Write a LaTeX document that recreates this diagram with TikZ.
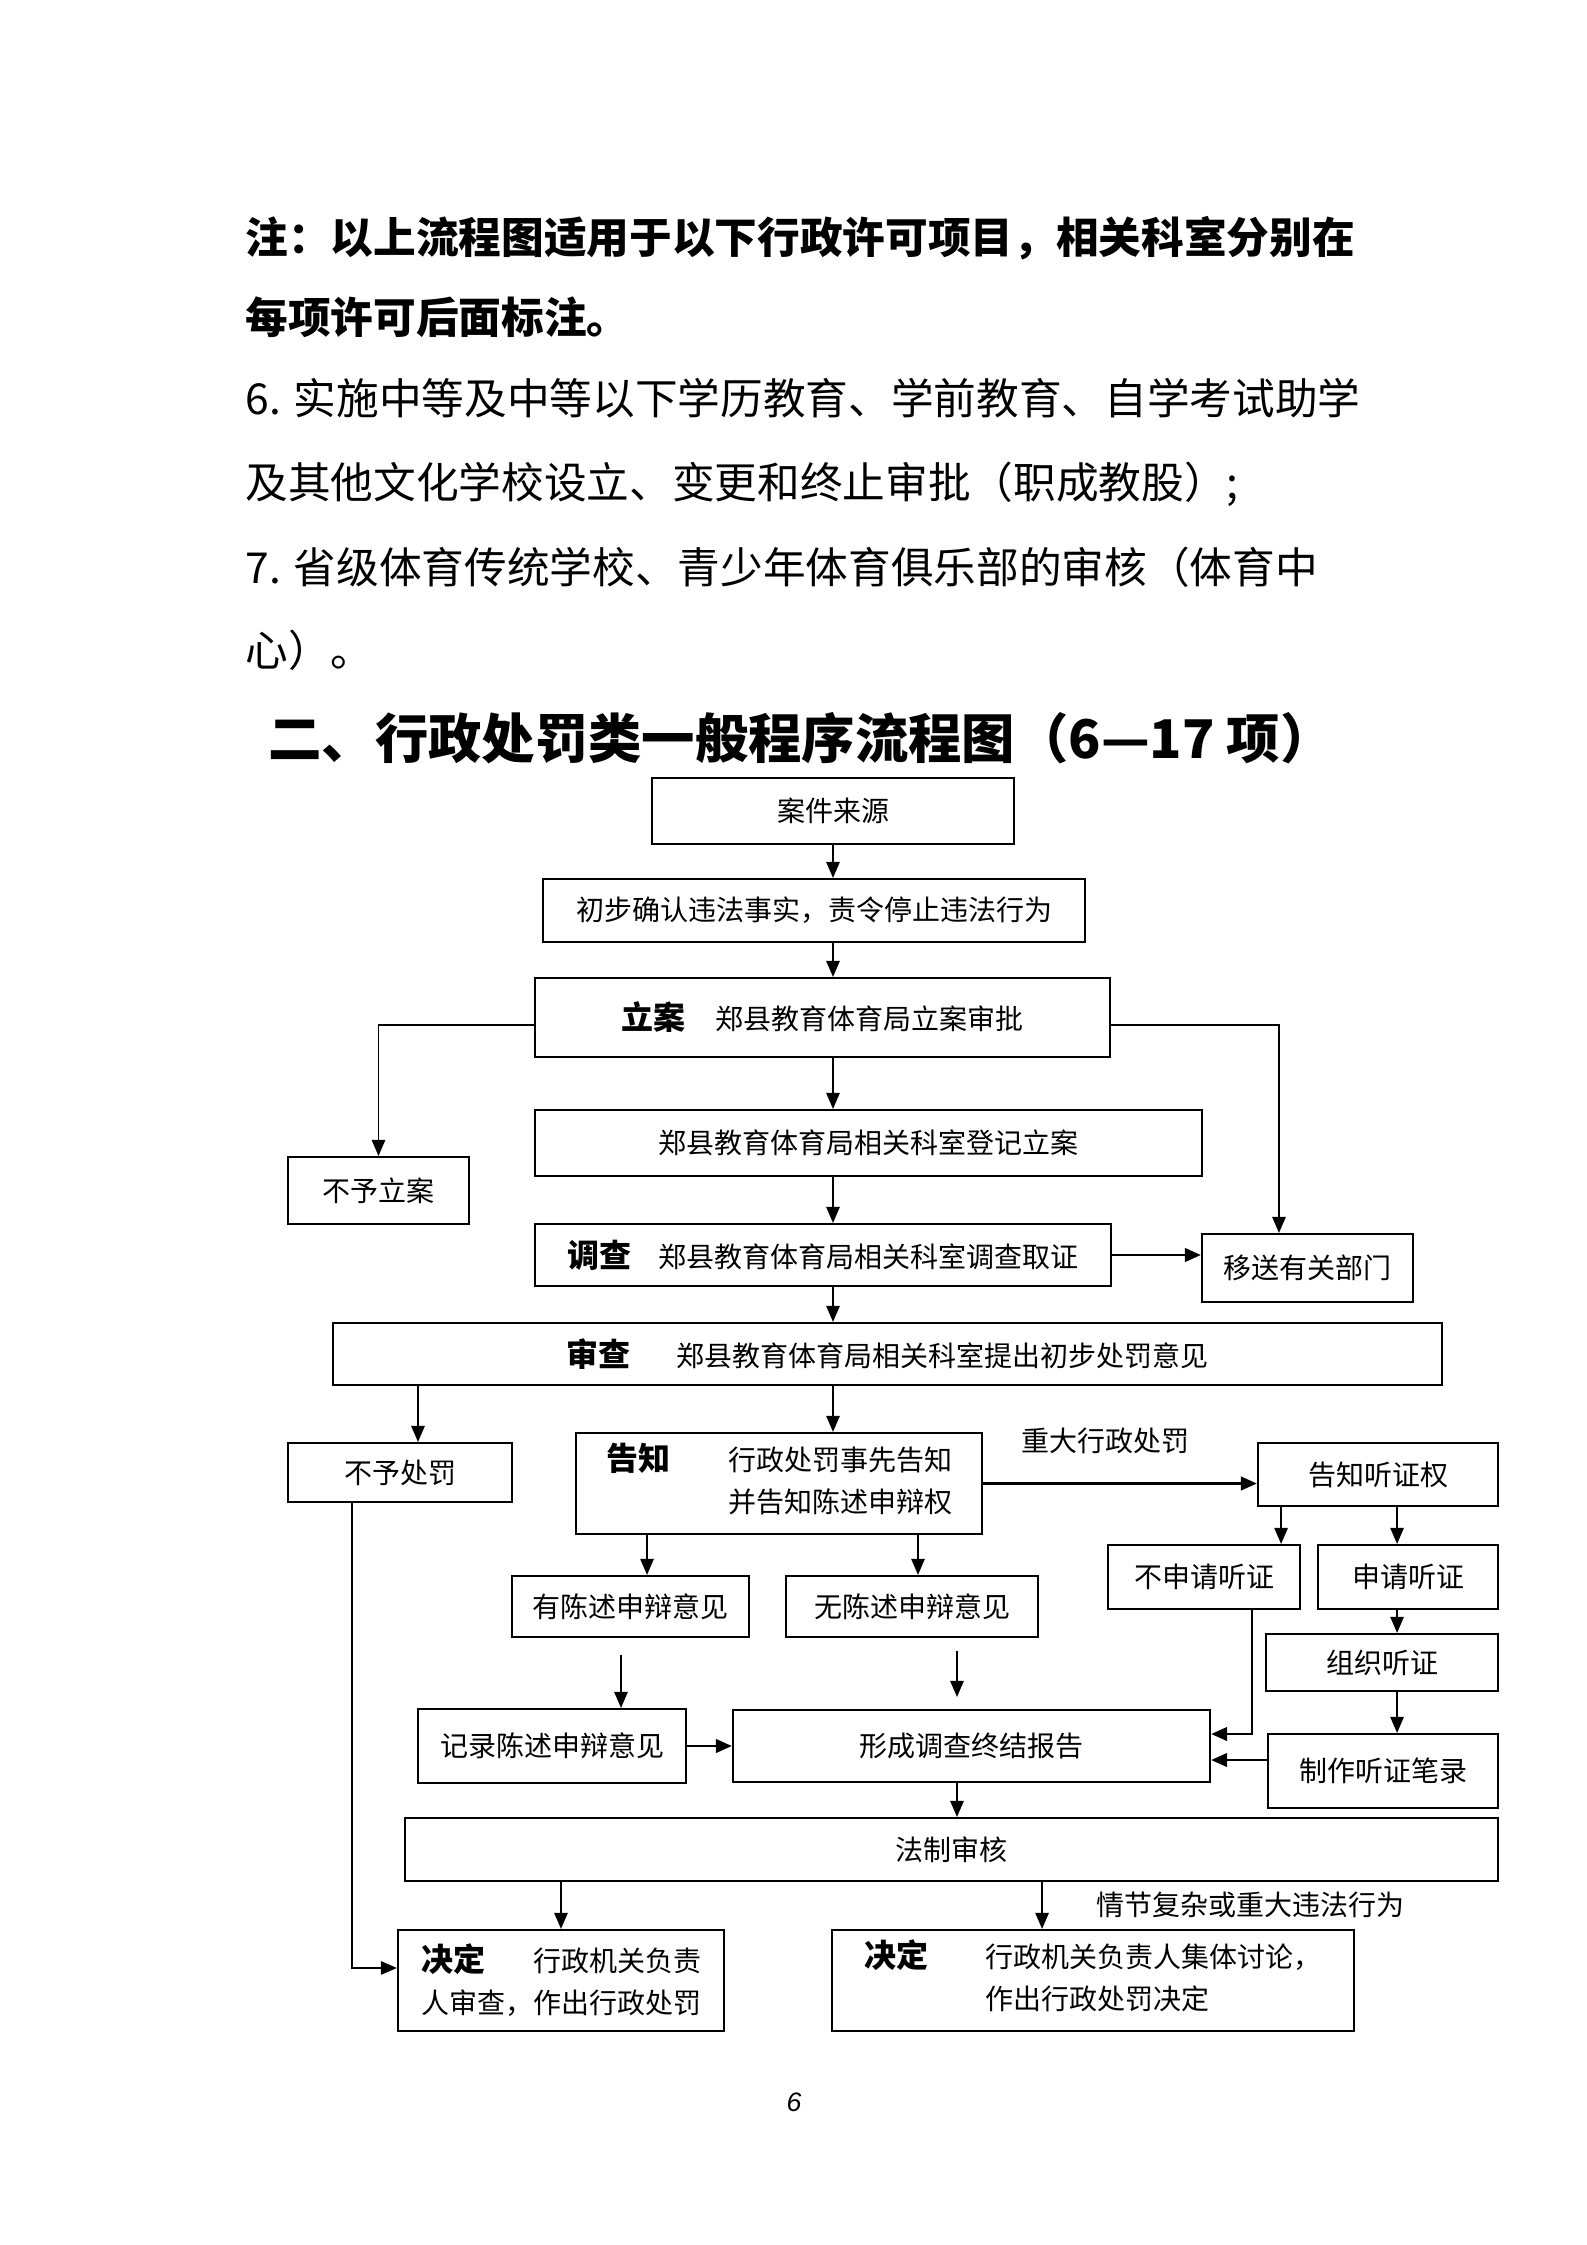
\documentclass[tikz,border=0pt]{standalone}
\usepackage{fontspec}
\setmainfont{Noto Sans CJK SC}
\newfontfamily\pagefont{Liberation Sans}
\usepackage{tikz}
\usetikzlibrary{arrows.meta}

\begin{document}
\begin{tikzpicture}
    [x=0.375pt, y=-0.375pt,
    box/.style={rectangle, draw, line width=0.8pt, inner sep=0pt, font=\fontsize{10.5}{15.75}\selectfont},
    tag/.style={inner sep=0pt, anchor=west, font=\fontsize{10.5}{13}\selectfont},
    note/.style={inner sep=0pt, anchor=west, font=\fontsize{16}{20}\selectfont},
    arrow/.style={line width=0.6pt, -{Stealth[length=6pt, width=5pt, inset=0pt]}},
    heavy/.style={arrow, line width=1.1pt}]
    \useasboundingbox (0,0) rectangle (1587,2245);

    % text above the chart
    \node [note, font=\bfseries\fontsize{16}{20}\selectfont] (note_a) at (245,238) {注：以上流程图适用于以下行政许可项目，相关科室分别在};
    \node [note, font=\bfseries\fontsize{16}{20}\selectfont] (note_b) at (245,317) {每项许可后面标注。};
    \node [note] (item_six_a) at (245,398) {6.\hspace{0.3em}实施中等及中等以下学历教育、学前教育、自学考试助学};
    \node [note] (item_six_b) at (245,484) {及其他文化学校设立、变更和终止审批（职成教股）;};
    \node [note] (item_seven_a) at (245,567) {7.\hspace{0.3em}省级体育传统学校、青少年体育俱乐部的审核（体育中};
    \node [note] (item_seven_b) at (245,650) {心）。};
    \node [note, font=\bfseries\fontsize{20}{24}\selectfont] (title) at (268,738) {二、行政处罚类一般程序流程图（6—17 项）};

    % boxes
    \node [box, minimum width=135.75pt, minimum height=24.5pt] (source) at (833,811) {案件来源};
    \node [box, minimum width=203.25pt, minimum height=23.6pt] (confirm) at (814,910.5) {初步确认违法事实，责令停止违法行为};
    \node [box, minimum width=215.6pt, minimum height=29.6pt] (file_case) at (822.5,1017.5)
    {{\bfseries\fontsize{12}{14}\selectfont 立案}\hspace{11pt}郑县教育体育局立案审批};
    \node [box, minimum width=250.1pt, minimum height=24.75pt] (register) at (868.5,1143) {郑县教育体育局相关科室登记立案};
    \node [box, minimum width=67.9pt, minimum height=25.1pt] (no_case) at (378.5,1190.5) {不予立案};
    \node [box, minimum width=216pt, minimum height=23.25pt] (investigate) at (823,1255)
    {{\bfseries\fontsize{12}{14}\selectfont 调查}\hspace{10pt}郑县教育体育局相关科室调查取证};
    \node [box, minimum width=79.1pt, minimum height=25.5pt] (transfer) at (1307.5,1268) {移送有关部门};
    \node [box, minimum width=415.9pt, minimum height=23.25pt] (review) at (887.5,1354)
    {{\bfseries\fontsize{12}{14}\selectfont 审查}\hspace{17pt}郑县教育体育局相关科室提出初步处罚意见};
    \node [box, minimum width=84pt, minimum height=22.1pt] (no_penalty) at (400,1472.5) {不予处罚};
    \node [box, minimum width=152.25pt, minimum height=37.9pt] (notice) at (779,1483.5)
    {\begin{tabular}{@{}l@{\hspace{21.75pt}}l@{}}{\bfseries\fontsize{12}{15.75}\selectfont 告知} & 行政处罚事先告知\\ & 并告知陈述申辩权\end{tabular}};
    \node [box, minimum width=90pt, minimum height=23.6pt] (hearing_right) at (1378,1474.5) {告知听证权};
    \node [box, minimum width=72pt, minimum height=24pt] (no_hearing) at (1204,1577) {不申请听证};
    \node [box, minimum width=67.5pt, minimum height=24pt] (apply_hearing) at (1408,1577) {申请听证};
    \node [box, minimum width=87pt, minimum height=21.4pt] (hold_hearing) at (1382,1662.5) {组织听证};
    \node [box, minimum width=86.25pt, minimum height=27.75pt] (hearing_record) at (1383,1771) {制作听证笔录};
    \node [box, minimum width=88.9pt, minimum height=22.9pt] (has_defence) at (630.5,1606.5) {有陈述申辩意见};
    \node [box, minimum width=94.5pt, minimum height=22.9pt] (no_defence) at (912,1606.5) {无陈述申辩意见};
    \node [box, minimum width=100.5pt, minimum height=27.75pt] (record_defence) at (552,1746) {记录陈述申辩意见};
    \node [box, minimum width=178.9pt, minimum height=27pt] (report) at (971.5,1746) {形成调查终结报告};
    \node [box, minimum width=409.9pt, minimum height=23.6pt] (legal_check) at (951.5,1849.5) {法制审核};
    \node [box, minimum width=122.25pt, minimum height=37.9pt] (decide_head) at (561,1980.5)
    {\parbox{105pt}{{\bfseries\fontsize{12}{15.75}\selectfont 决定}\hfill 行政机关负责\\人审查，作出行政处罚}};
    \node [box, minimum width=195.75pt, minimum height=37.9pt] (decide_group) at (1093,1980.5)
    {\begin{tabular}{@{}l@{\hspace{21.4pt}}l@{}}{\bfseries\fontsize{12}{15.75}\selectfont 决定} & 行政机关负责人集体讨论，\\ & 作出行政处罚决定\end{tabular}};

    \node [tag] (major_label) at (1021,1441) {重大行政处罚};
    \node [tag] (complex_label) at (1096,1905) {情节复杂或重大违法行为};
    \node [inner sep=0pt, font=\pagefont\itshape\fontsize{10}{12}\selectfont] (page_no) at (794,2102) {6};

    \coordinate (defence_gap) at (621,1655);
    \coordinate (report_gap) at (957,1651);

    % main column
    \draw [arrow] (source.south) -- (source |- confirm.north);
    \draw [arrow] (confirm.south -| source) -- (source |- file_case.north);
    \draw [arrow] (file_case.south -| source) -- (source |- register.north);
    \draw [arrow] (register.south -| source) -- (source |- investigate.north);
    \draw [arrow] (investigate.south -| source) -- (source |- review.north);
    \draw [arrow] (review.south -| source) -- (source |- notice.north);
    \draw [arrow] ([yshift=-2.8pt]file_case.west) -| (no_case.north);
    \draw [arrow] ([yshift=-2.8pt]file_case.east) -| ([xshift=-10.7pt]transfer.north);
    \draw [heavy] (investigate.east) -- (investigate.east -| transfer.west);

    % penalty branch
    \draw [arrow] ([xshift=6.75pt]no_penalty.north |- review.south) -- ([xshift=6.75pt]no_penalty.north);
    \draw [arrow] ([xshift=-18pt]no_penalty.south) |- ([yshift=4.7pt]decide_head.west);
    \draw [heavy] (notice.east) -- (notice.east -| hearing_right.west);
    \draw [arrow] ([xshift=6.2pt]has_defence.north |- notice.south) -- ([xshift=6.2pt]has_defence.north);
    \draw [arrow] ([xshift=2.25pt]no_defence.north |- notice.south) -- ([xshift=2.25pt]no_defence.north);
    \draw [arrow] (defence_gap) -- (defence_gap |- record_defence.north);
    \draw [arrow, shorten >=4.5pt] (report_gap) -- (report_gap |- report.north);
    \draw [heavy] (record_defence) -- (record_defence -| report.west);

    % hearing branch
    \draw [arrow] ([xshift=28.9pt]no_hearing.north |- hearing_right.south) -- ([xshift=28.9pt]no_hearing.north);
    \draw [arrow] ([xshift=-4.1pt]apply_hearing.north |- hearing_right.south) -- ([xshift=-4.1pt]apply_hearing.north);
    \draw [arrow] ([xshift=-4.1pt]apply_hearing.south) -- ([xshift=-4.1pt]apply_hearing.south |- hold_hearing.north);
    \draw [arrow] ([xshift=-4.1pt]apply_hearing.south |- hold_hearing.south) -- ([xshift=-4.1pt]apply_hearing.south |- hearing_record.north);
    \draw [heavy] ([xshift=18pt]no_hearing.south) |- ([yshift=4.5pt]report.east);
    \draw [heavy] ([yshift=-5.25pt]report.east -| hearing_record.west) -- ([yshift=-5.25pt]report.east);

    % decision
    \draw [arrow] (report_gap |- report.south) -- (report_gap |- legal_check.north);
    \draw [arrow] (decide_head.north |- legal_check.south) -- (decide_head.north);
    \draw [arrow] ([xshift=-19.1pt]decide_group.north |- legal_check.south) -- ([xshift=-19.1pt]decide_group.north);
  \end{tikzpicture}
\end{document}
